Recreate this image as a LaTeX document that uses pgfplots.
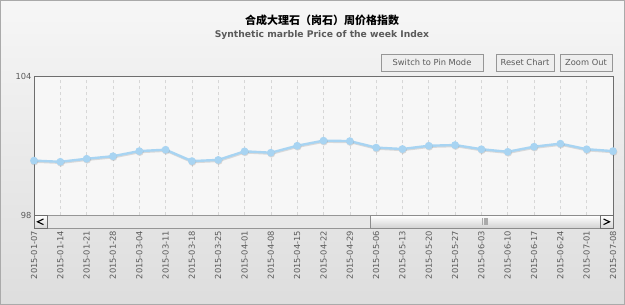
\documentclass[border=0pt]{standalone}
\usepackage{pgfplots}
\pgfplotsset{compat=1.18}
\usepackage{fontspec}
\setmainfont{DejaVu Sans}
\newfontfamily\cjk{Noto Sans CJK SC}
\definecolor{bgc}{RGB}{233,233,233}
\definecolor{plotbg}{RGB}{247,247,247}
\definecolor{linec}{RGB}{168,212,242}
\definecolor{txtc}{RGB}{90,90,90}
\definecolor{gridc}{RGB}{215,215,215}
\definecolor{borderc}{RGB}{110,110,110}
\definecolor{outerc}{RGB}{170,170,170}
\definecolor{btnb}{RGB}{150,150,150}
\definecolor{btnf}{RGB}{238,238,238}
\definecolor{trackc}{RGB}{232,232,232}
\definecolor{thumbb}{RGB}{210,210,210}
\definecolor{thumbd}{RGB}{140,140,140}
\definecolor{gripc}{RGB}{170,170,170}
\definecolor{arrb}{RGB}{215,215,215}
\begin{document}
\begin{tikzpicture}[x=1pt,y=1pt]
\path[use as bounding box] (0,0) rectangle (625,305);
\shade[top color=white!60!bgc, bottom color=bgc!95!black, draw=outerc] (0.5,0.5) rectangle (624.5,304.5);
% title
\node[font=\cjk\bfseries\fontsize{11}{13}\selectfont, text=black] at (322,285) {合成大理石（岗石）周价格指数};
\node[font=\bfseries\fontsize{9.2}{11}\selectfont, text=txtc] at (322,269.5) {Synthetic marble Price of the week Index};
% buttons
\foreach \a/\b/\t in {381/483/Switch to Pin Mode, 496/554/Reset Chart, 560/612/Zoom Out}{
  \draw[draw=btnb, fill=btnf] (\a,234) rectangle (\b,251);
  \node[font=\fontsize{8.3}{10}\selectfont, text=txtc] at ({(\a+\b)/2},242.5) {\t};
}
% plot background
\fill[plotbg] (34,89.5) rectangle (613,229);
\begin{axis}[
  at={(34pt,89.5pt)}, anchor=south west,
  scale only axis, width=579pt, height=139.5pt,
  xmin=0, xmax=22, ymin=98, ymax=104,
  ytick={98,104}, xtick={0,...,22},
  xtick pos=bottom, ytick pos=left,
  xticklabels={2015-01-07,2015-01-14,2015-01-21,2015-01-28,2015-03-04,2015-03-11,2015-03-18,2015-03-25,2015-04-01,2015-04-08,2015-04-15,2015-04-22,2015-04-29,2015-05-06,2015-05-13,2015-05-20,2015-05-27,2015-06-03,2015-06-10,2015-06-17,2015-06-24,2015-07-01,2015-07-08},
  xticklabel style={rotate=90, anchor=east, font=\fontsize{8.3}{9}\selectfont, text=txtc},
  xticklabel shift=12pt,
  yticklabel style={font=\fontsize{8.3}{9}\selectfont, text=txtc},
  yticklabel shift=-1pt,
  /pgf/number format/assume math mode=true,
  major tick length=0pt,
  xmajorgrids, grid style={gridc, dashed, line width=0.6pt},
  axis line style={borderc, line width=0.8pt},
  clip=false,
]
\addplot[gray, opacity=0.25, line width=2.4pt, mark=*, mark size=2.6pt, yshift=-1pt, xshift=0.5pt] coordinates {
(0,100.36)(1,100.31)(2,100.44)(3,100.55)(4,100.77)(5,100.83)(6,100.34)(7,100.39)(8,100.76)(9,100.70)(10,101.00)(11,101.22)(12,101.20)(13,100.92)(14,100.86)(15,101.00)(16,101.03)(17,100.85)(18,100.74)(19,100.96)(20,101.09)(21,100.85)(22,100.77)};
\addplot[linec, line width=2.4pt, mark=*, mark size=2.6pt] coordinates {
(0,100.36)(1,100.31)(2,100.44)(3,100.55)(4,100.77)(5,100.83)(6,100.34)(7,100.39)(8,100.76)(9,100.70)(10,101.00)(11,101.22)(12,101.20)(13,100.92)(14,100.86)(15,101.00)(16,101.03)(17,100.85)(18,100.74)(19,100.96)(20,101.09)(21,100.85)(22,100.77)};
\end{axis}
% scrollbar
\draw[fill=trackc, draw=btnb] (34,77) rectangle (613,89.5);
\shade[top color=white, bottom color=thumbb, draw=thumbd] (370,77) rectangle (600,89.5);
\foreach \i in {0,1,2,3,4} \draw[gripc] ({482.5+\i*1.2},80) -- ({482.5+\i*1.2},86.5);
\shade[top color=white, bottom color=arrb, draw=borderc] (34,77) rectangle (47,89.5);
\shade[top color=white, bottom color=arrb, draw=borderc] (600,77) rectangle (613,89.5);
\draw[line width=1.1pt] (43.5,86) -- (37.5,83.2) -- (43.5,80.4);
\draw[line width=1.1pt] (603.5,86) -- (609.5,83.2) -- (603.5,80.4);
\end{tikzpicture}
\end{document}
